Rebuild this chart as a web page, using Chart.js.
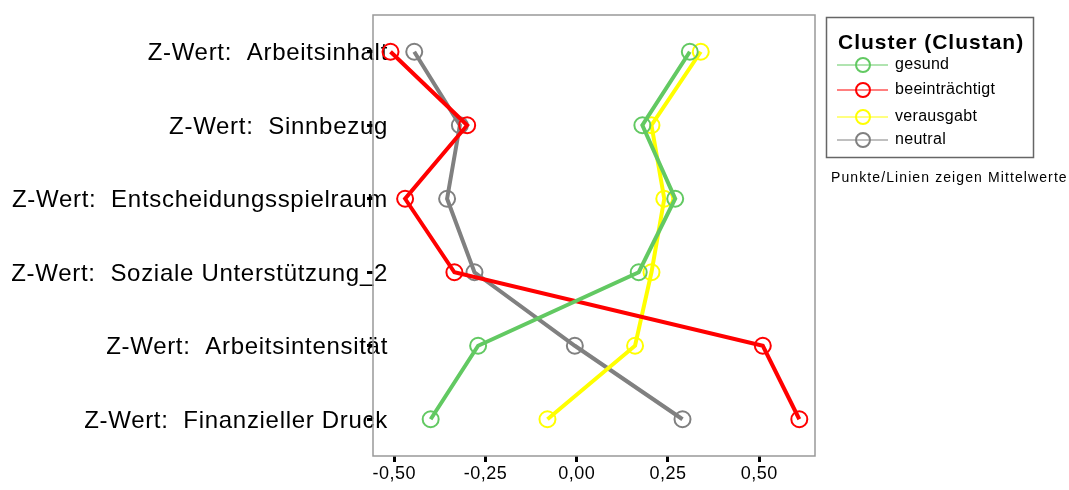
<!DOCTYPE html>
<html>
<head>
<meta charset="utf-8">
<script src="https://cdn.jsdelivr.net/npm/chart.js@4/dist/chart.umd.min.js"></script>
<style>
  html, body { margin: 0; padding: 0; background: #fff; }
  #wrap { width: 1069px; height: 490px; position: relative; }
</style>
</head>
<body>
<div id="wrap"><canvas id="profil"></canvas></div>
<script>
// Kategorien (y-Achse) und Mittelwerte je Cluster
const variablen = [
  'Z-Wert:  Arbeitsinhalt',
  'Z-Wert:  Sinnbezug',
  'Z-Wert:  Entscheidungsspielraum',
  'Z-Wert:  Soziale Unterstützung_2',
  'Z-Wert:  Arbeitsintensität',
  'Z-Wert:  Finanzieller Druck'
];
const gesund          = [0.31, 0.18, 0.27, 0.17, -0.27, -0.40];
const beeintraechtigt = [-0.51, -0.30, -0.47, -0.335, 0.51, 0.61];
const verausgabt      = [0.34, 0.205, 0.24, 0.205, 0.16, -0.08];
const neutral         = [-0.445, -0.32, -0.355, -0.28, -0.005, 0.29];
const xTicks = [-0.5, -0.25, 0, 0.25, 0.5];

const FONT = "'Liberation Sans', Arial, sans-serif";

function ds(label, values, color) {
  return {
    label: label,
    data: values,
    borderColor: color,
    backgroundColor: 'rgba(0,0,0,0)',
    borderWidth: 4,
    pointRadius: 8,
    pointHoverRadius: 8,
    pointBorderWidth: 2,
    pointBackgroundColor: 'rgba(0,0,0,0)',
    pointBorderColor: color,
    tension: 0
  };
}

// Laufweite x-Beschriftung, y-Beschriftung (ragt in die Plotfläche), Rahmen
const frame = {
  id: 'frame',
  beforeDraw(chart) {
    chart.ctx.letterSpacing = '0.5px';
  },
  beforeDatasetsDraw(chart) {
    const c = chart.ctx, ys = chart.scales.y;
    c.save();
    c.letterSpacing = '0.7px';
    c.font = '24px ' + FONT;
    c.fillStyle = '#000';
    c.textAlign = 'right';
    c.textBaseline = 'middle';
    chart.data.labels.forEach((lab, i) => {
      c.fillText(lab, 388, ys.getPixelForValue(i) + 2);
    });
    c.restore();
  },
  afterDatasetsDraw(chart) {
    const a = chart.chartArea, c = chart.ctx;
    c.save();
    c.strokeStyle = '#999';
    c.lineWidth = 1.5;
    c.strokeRect(a.left, a.top, a.right - a.left, a.bottom - a.top);
    c.restore();
  }
};

// Legende im SPSS-Stil
const spssLegend = {
  id: 'spssLegend',
  afterDraw(chart) {
    const c = chart.ctx;
    c.save();
    c.strokeStyle = '#666';
    c.lineWidth = 1.5;
    c.strokeRect(826.5, 17.5, 207, 140);
    c.fillStyle = '#000';
    c.textBaseline = 'middle';
    c.textAlign = 'left';
    c.letterSpacing = '1px';
    c.font = 'bold 21px ' + FONT;
    c.fillText('Cluster (Clustan)', 838, 43);
    const ys = [65, 90, 117, 140];
    chart.data.datasets.forEach((d, i) => {
      const y = ys[i];
      c.strokeStyle = d.borderColor;
      c.lineWidth = 1;
      c.beginPath();
      c.moveTo(837, y); c.lineTo(888, y);
      c.stroke();
      c.lineWidth = 2;
      c.beginPath();
      c.arc(863, y, 7, 0, Math.PI * 2);
      c.stroke();
      c.fillStyle = '#000';
      c.letterSpacing = '0.3px';
      c.font = '16px ' + FONT;
      c.fillText(d.label, 895, y);
    });
    c.letterSpacing = '1.1px';
    c.font = '14px ' + FONT;
    c.fillText('Punkte/Linien zeigen Mittelwerte', 831, 178);
    c.restore();
    c.letterSpacing = '0px';
  }
};

new Chart(document.getElementById('profil'), {
  type: 'line',
  data: {
    labels: variablen,
    datasets: [
      ds('gesund', gesund, '#62c962'),
      ds('beeinträchtigt', beeintraechtigt, '#ff0000'),
      ds('verausgabt', verausgabt, '#ffff00'),
      ds('neutral', neutral, '#808080')
    ]
  },
  options: {
    indexAxis: 'y',
    responsive: true,
    maintainAspectRatio: false,
    animation: false,
    layout: { padding: { top: 15, right: 254, left: 0, bottom: 0 } },
    plugins: { legend: { display: false }, tooltip: { enabled: false } },
    scales: {
      x: {
        type: 'linear',
        min: -0.558,
        max: 0.653,
        afterBuildTicks(scale) { scale.ticks = xTicks.map(v => ({ value: v })); },
        afterFit(scale) { scale.height = 34; },
        border: { display: false },
        grid: { drawOnChartArea: false, tickLength: 6, tickWidth: 3, tickColor: '#000' },
        ticks: {
          padding: 1,
          color: '#000',
          font: { family: FONT, size: 18 },
          callback: v => v.toFixed(2).replace('.', ',')
        }
      },
      y: {
        type: 'category',
        offset: true,
        afterFit(scale) { scale.width = 373; },
        border: { display: false },
        grid: { drawOnChartArea: false, offset: false, tickLength: 6, tickWidth: 3, tickColor: '#000' },
        ticks: { display: false }
      }
    }
  },
  plugins: [frame, spssLegend]
});
</script>
</body>
</html>
